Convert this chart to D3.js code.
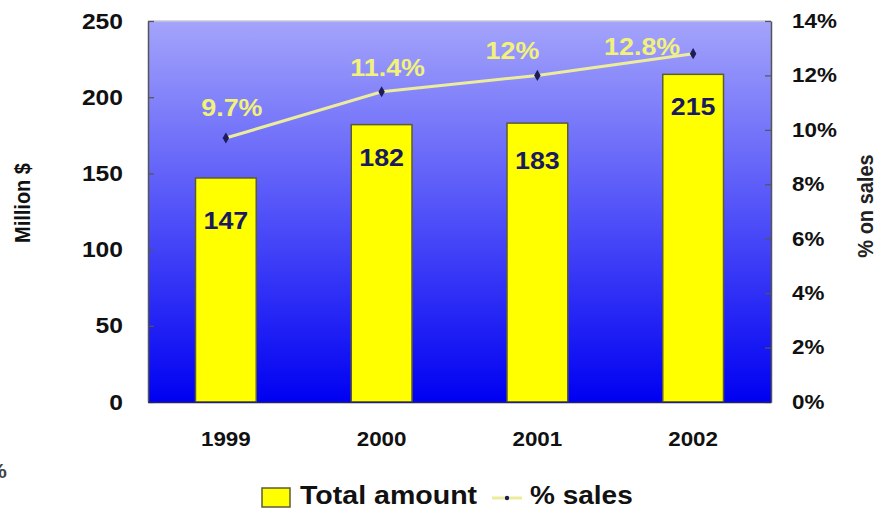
<!DOCTYPE html>
<html>
<head>
<meta charset="utf-8">
<script src="https://cdn.jsdelivr.net/npm/d3@7"></script>
<style>
  html, body { margin: 0; padding: 0; background: #fff; }
  svg { display: block; font-family: "Liberation Sans", Arial, sans-serif; }
</style>
</head>
<body>
<svg id="chart" width="879" height="510"></svg>
<script>
// R&D spending per year and its share of sales
const years = ["1999", "2000", "2001", "2002"];
const totalAmount = [147, 182, 183, 215];          // Million $
const pctSales = [9.7, 11.4, 12, 12.8];            // % on sales
const pctLabels = ["9.7%", "11.4%", "12%", "12.8%"];
const leftTicks = [0, 50, 100, 150, 200, 250];
const rightTicks = [0, 2, 4, 6, 8, 10, 12, 14];

const svg = d3.select("#chart");
const plot = { left: 148, right: 771, top: 21, bottom: 402 };
const WIDEN = 1.12; // horizontal glyph stretch used for all text

// Turn x/y placement into a transform so glyphs can be widened
function widen(sel, extra) {
  sel.each(function () {
    const t = d3.select(this);
    const x = +t.attr("x") || 0;
    const y = +t.attr("y") || 0;
    t.attr("x", null).attr("y", null)
     .attr("transform", `translate(${x},${y}) scale(${WIDEN},1)` + (extra || ""));
  });
}

const x = d3.scaleBand().domain(years).range([plot.left, plot.right]).paddingInner(0.61).paddingOuter(0.305);
const band = d3.scaleBand().domain(years).range([plot.left, plot.right]);
const yL = d3.scaleLinear().domain([0, 250]).range([plot.bottom, plot.top]);
const yR = d3.scaleLinear().domain([0, 14]).range([plot.bottom, plot.top]);

// Plot background: pale lavender at top fading to saturated blue
const defs = svg.append("defs");
const grad = defs.append("linearGradient").attr("id", "bg").attr("x1", 0).attr("y1", 0).attr("x2", 0).attr("y2", 1);
grad.append("stop").attr("offset", "0%").attr("stop-color", "#a4a4fb");
grad.append("stop").attr("offset", "50%").attr("stop-color", "#5252f9");
grad.append("stop").attr("offset", "100%").attr("stop-color", "#0000f2");

svg.append("rect")
  .attr("x", plot.left).attr("y", plot.top)
  .attr("width", plot.right - plot.left).attr("height", plot.bottom - plot.top)
  .attr("fill", "url(#bg)");

svg.append("line").attr("x1", plot.left).attr("x2", plot.right)
  .attr("y1", plot.top).attr("y2", plot.top)
  .attr("stroke", "#c8c8d8").attr("stroke-width", 1.5);

// Bars
svg.append("g").selectAll("rect").data(years).join("rect")
  .attr("x", d => x(d))
  .attr("width", x.bandwidth())
  .attr("y", (d, i) => yL(totalAmount[i]))
  .attr("height", (d, i) => yL(0) - yL(totalAmount[i]))
  .attr("fill", "#ffff00")
  .attr("stroke", "#5c5c34").attr("stroke-width", 1.5);

// Bar value labels, set a little below each bar top
const barDrop = [42, 33, 37, 32];
const barLabels = svg.append("g").selectAll("text").data(years).join("text")
  .attr("x", d => x(d) + x.bandwidth() / 2)
  .attr("y", (d, i) => yL(totalAmount[i]) + barDrop[i])
  .attr("dy", "0.36em")
  .attr("text-anchor", "middle")
  .attr("font-size", 24).attr("font-weight", "bold")
  .attr("fill", "#1a1a60")
  .text((d, i) => totalAmount[i]);
widen(barLabels);

// Axes
const axisL = svg.append("g").attr("transform", `translate(${plot.left},0)`)
  .call(d3.axisLeft(yL).tickValues(leftTicks).tickSizeInner(-6).tickSizeOuter(0).tickPadding(25));
const axisR = svg.append("g").attr("transform", `translate(${plot.right},0)`)
  .call(d3.axisRight(yR).tickValues(rightTicks).tickFormat(d => d + "%").tickSizeInner(-6).tickSizeOuter(0).tickPadding(21));
const axisB = svg.append("g").attr("transform", `translate(0,${plot.bottom})`)
  .call(d3.axisBottom(band).tickSize(0).tickPadding(30));

[axisL, axisR].forEach(a => {
  a.select(".domain").attr("stroke", "#555").attr("stroke-width", 1.5);
  a.selectAll(".tick line").attr("stroke", "#555").attr("stroke-width", 1.2);
  a.selectAll("text").attr("fill", "#111").attr("font-weight", "bold");
});
axisL.selectAll("text").attr("font-size", 22);
axisR.selectAll("text").attr("font-size", 20);
axisB.select(".domain").attr("stroke", "#22226a").attr("stroke-width", 1.5);
axisB.selectAll("text").attr("font-size", 20).attr("font-weight", "bold").attr("fill", "#111");
[axisL, axisR, axisB].forEach(a => { a.attr("font-family", null); widen(a.selectAll("text")); });

// % sales line with markers
const line = d3.line().x((d, i) => band(years[i]) + band.bandwidth() / 2).y(d => yR(d));
svg.append("path").datum(pctSales)
  .attr("d", line)
  .attr("fill", "none")
  .attr("stroke", "#ecec9c").attr("stroke-width", 3);
svg.append("g").selectAll("path").data(pctSales).join("path")
  .attr("transform", (d, i) => `translate(${band(years[i]) + band.bandwidth() / 2},${yR(d)})`)
  .attr("d", d3.symbol(d3.symbolDiamond, 36))
  .attr("fill", "#1c1c58");

// Percentage labels, nudged per point so they clear the line
const nudge = [[6, -31], [6, -24], [-25, -25], [-51, -7]];
const pctText = svg.append("g").selectAll("text").data(pctSales).join("text")
  .attr("x", (d, i) => band(years[i]) + band.bandwidth() / 2 + nudge[i][0])
  .attr("y", (d, i) => yR(d) + nudge[i][1])
  .attr("dy", "0.36em")
  .attr("text-anchor", "middle")
  .attr("font-size", 24).attr("font-weight", "bold")
  .attr("fill", "#f2f27a")
  .text((d, i) => pctLabels[i]);
widen(pctText);

// Axis titles
const tL = svg.append("text").attr("x", 30).attr("y", 203)
  .attr("text-anchor", "middle").attr("font-size", 20).attr("font-weight", "bold").attr("fill", "#111")
  .text("Million $");
widen(tL, " rotate(-90)");
const tR = svg.append("text").attr("x", 873).attr("y", 206)
  .attr("text-anchor", "middle").attr("font-size", 20).attr("font-weight", "bold").attr("fill", "#222")
  .text("% on sales");
widen(tR, " rotate(-90)");

// Clipped glyph at the lower-left edge
const stray = svg.append("text").attr("x", 7).attr("y", 478)
  .attr("text-anchor", "end").attr("font-size", 20).attr("font-weight", "bold").attr("fill", "#444")
  .text("%");
widen(stray);

// Legend
const lg = svg.append("g");
lg.append("rect").attr("x", 262).attr("y", 488).attr("width", 28).attr("height", 19)
  .attr("fill", "#ffff00").attr("stroke", "#5c5c34").attr("stroke-width", 1.5);
const lt1 = lg.append("text").attr("x", 300).attr("y", 504)
  .attr("font-size", 25.5).attr("font-weight", "bold").attr("fill", "#111").text("Total amount");
lg.append("line").attr("x1", 492).attr("x2", 522).attr("y1", 498).attr("y2", 498)
  .attr("stroke", "#ecec9c").attr("stroke-width", 3);
lg.append("circle").attr("cx", 507).attr("cy", 498).attr("r", 2.2).attr("fill", "#1c1c58");
const lt2 = lg.append("text").attr("x", 530).attr("y", 504)
  .attr("font-size", 25).attr("font-weight", "bold").attr("fill", "#111").text("% sales");
widen(lt1); widen(lt2);
</script>
</body>
</html>
